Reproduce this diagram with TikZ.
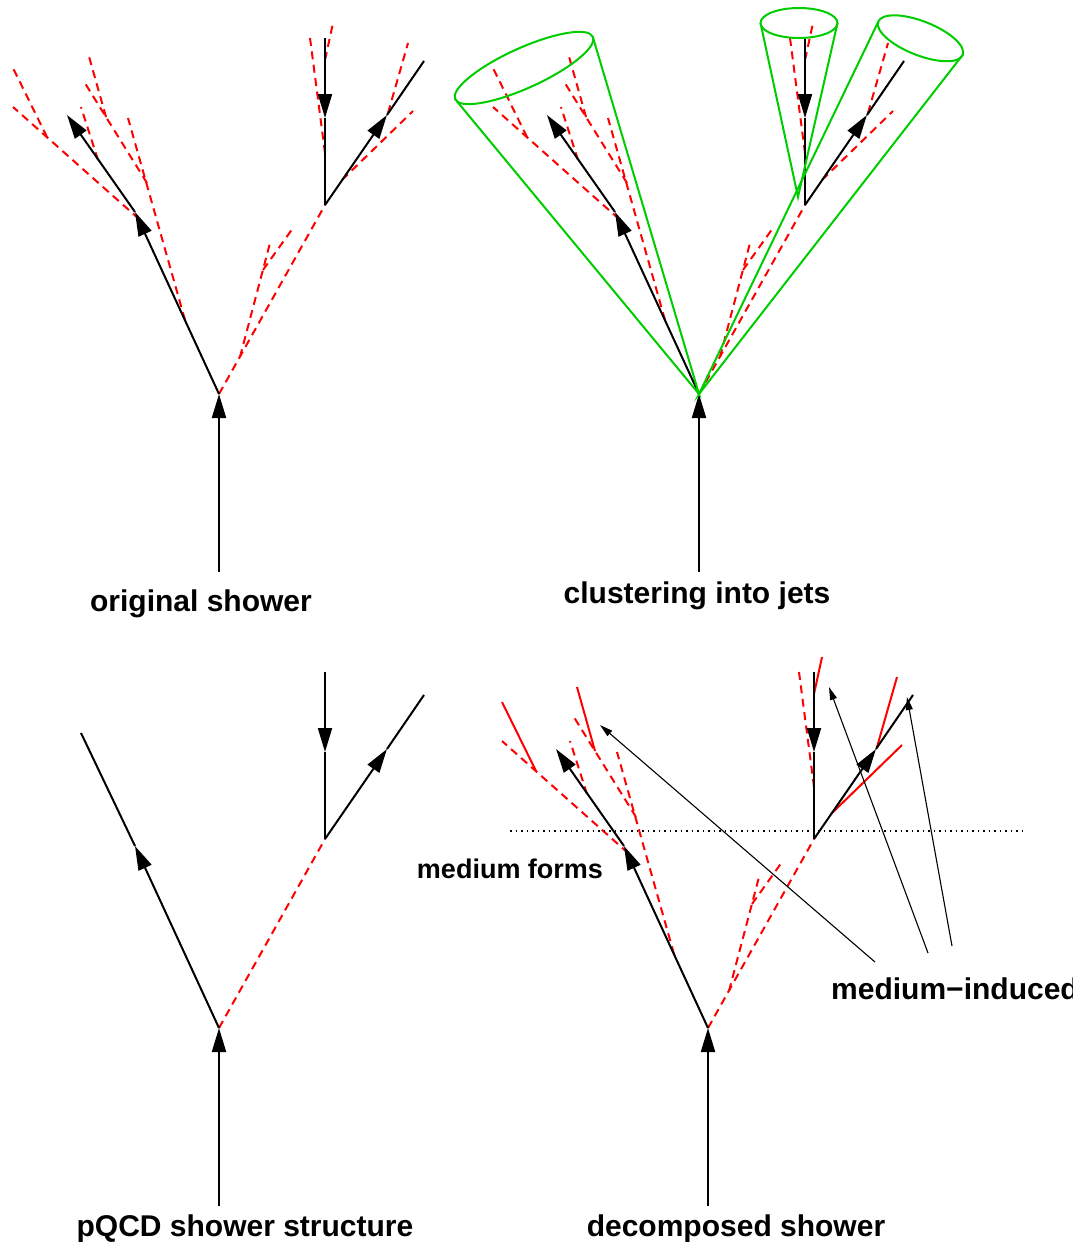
\documentclass[tikz,border=0pt]{standalone}
\usepackage{fontspec}
\setmainfont{Liberation Sans}
\usetikzlibrary{arrows.meta}
\definecolor{jetgreen}{RGB}{0,205,0}
\tikzset{
  quark/.style={black, line width=2pt},
  fwd/.style={quark, -{Triangle[length=24pt,width=14pt]}},
  glu/.style={red, line width=2pt, dash pattern=on 8pt off 5.5pt},
  medglu/.style={red, line width=2pt},
  jet/.style={jetgreen, line width=2pt},
  pointer/.style={black, line width=1.1pt, -{Triangle[length=13pt,width=7pt]}},
  mediumline/.style={black, line width=1.5pt, dash pattern=on 1.5pt off 4pt},
  lab/.style={font=\fontsize{30}{36}\selectfont\bfseries, inner sep=0pt},
  smalllab/.style={font=\fontsize{27}{32}\selectfont\bfseries, inner sep=0pt},
}
% points of one shower tree (pixel-like units, y pointing down)
\newcommand{\treepoints}{%
  \coordinate (v)  at (219,394);
  \coordinate (in) at (219,572);
  \coordinate (q)  at (135,212);
  \coordinate (qt) at (67,115);
  \coordinate (qs) at (81,99);
  \coordinate (a)  at (325,205);
  \coordinate (at) at (325,38);
  \coordinate (am) at (325,118);
  \coordinate (bt) at (424,61);
  \coordinate (bm) at (387,115);
  \coordinate (g1s) at (139,219);  \coordinate (g1t) at (13,107);
  \coordinate (g1b) at (47,137);   \coordinate (g1bt) at (13,68);
  \coordinate (gs) at (185,320);   \coordinate (gt) at (128,118);
  \coordinate (es) at (147,183);   \coordinate (et) at (83,80);
  \coordinate (ds) at (106,117);   \coordinate (dt) at (88,53);
  \coordinate (fs) at (98,160);    \coordinate (ft) at (81,107);
  \coordinate (l2s) at (240,357);  \coordinate (l2t) at (270,243);
  \coordinate (l3s) at (263,270);  \coordinate (l3t) at (293,228);
  \coordinate (r1s) at (325,153);  \coordinate (r1t) at (310,38);
  \coordinate (r2s) at (325,60);   \coordinate (r2t) at (333,23);
  \coordinate (r3s) at (388,113);  \coordinate (r3t) at (408,43);
  \coordinate (r4s) at (342,180);  \coordinate (r4t) at (413,111);
}
% the hard skeleton: incoming line, quark, gluon splitting into a pair
\newcommand{\skeleton}{%
  \draw[glu] (v) -- (a);
  \draw[fwd] (in) -- (v);
  \draw[fwd] (v) -- (q);
  \draw[fwd] (at) -- (am);
  \draw[quark] (am) -- (a);
  \draw[fwd] (a) -- (bm);
  \draw[quark] (bm) -- (bt);
}
\begin{document}
\begin{tikzpicture}[x=1pt, y=-1pt]
\useasboundingbox (0,0) rectangle (1073,1242);
\clip (0,0) rectangle (1073,1242);

% ---------- original shower ----------
\begin{scope}[name prefix=tl-]
  \treepoints
  \foreach \s/\t in {g1s/g1t, g1b/g1bt, gs/gt, es/et, ds/dt, fs/ft, l2s/l2t, l3s/l3t, r1s/r1t, r2s/r2t, r3s/r3t, r4s/r4t}
    \draw[glu] (\s) -- (\t);
  \skeleton
  \draw[fwd] (q) -- (qt);
\end{scope}
\node[lab] (lab-orig) at (201,604) {original shower};

% ---------- clustering into jets ----------
\begin{scope}[shift={(480,0)}, name prefix=tr-]
  \treepoints
  \foreach \s/\t in {g1s/g1t, g1b/g1bt, gs/gt, es/et, ds/dt, fs/ft, l2s/l2t, l3s/l3t, r1s/r1t, r2s/r2t, r3s/r3t, r4s/r4t}
    \draw[glu] (\s) -- (\t);
  \skeleton
  \draw[fwd] (q) -- (qt);
\end{scope}
% jet cones
\coordinate (cone1c) at (524,68);
\coordinate (cone1l) at (455.2,99.2);
\coordinate (cone1r) at (592.8,36.8);
\coordinate (cone2c) at (799,23);
\coordinate (cone2l) at (760.5,23);
\coordinate (cone2r) at (837.5,23);
\coordinate (cone2apex) at (798,197);
\coordinate (cone3c) at (920.5,38.3);
\coordinate (cone3l) at (878.3,21.7);
\coordinate (cone3r) at (962.7,54.9);
\draw[jet, rotate around={24.4:(cone1c)}] (cone1c) ellipse [x radius=75.6, y radius=20];
\draw[jet] (cone1l) -- (tr-v) -- (cone1r);
\draw[jet] (cone2c) ellipse [x radius=38.5, y radius=15];
\draw[jet] (cone2l) -- (cone2apex) -- (cone2r);
\draw[jet, rotate around={-21.5:(cone3c)}] (cone3c) ellipse [x radius=45.4, y radius=17];
\draw[jet] (cone3l) -- (tr-v) -- (cone3r);
\node[lab] (lab-clus) at (697,596) {clustering into jets};

% ---------- pQCD shower structure ----------
\begin{scope}[shift={(0,634)}, name prefix=bl-]
  \treepoints
  \skeleton
  \draw[quark] (q) -- (qs);
\end{scope}
\node[lab] (lab-pqcd) at (245,1229) {pQCD shower structure};

% ---------- decomposed shower ----------
\begin{scope}[shift={(489,634)}, name prefix=br-]
  \treepoints
  \foreach \s/\t in {g1s/g1t, gs/gt, es/et, fs/ft, l2s/l2t, l3s/l3t, r1s/r1t}
    \draw[glu] (\s) -- (\t);
  \foreach \s/\t in {g1b/g1bt, ds/dt, r2s/r2t, r3s/r3t, r4s/r4t}
    \draw[medglu] (\s) -- (\t);
  \skeleton
  \draw[fwd] (q) -- (qt);
\end{scope}
% formation of the medium
\coordinate (medL) at (510,831);
\coordinate (medR) at (1025,831);
\draw[mediumline] (medL) -- (medR);
\node[smalllab] (lab-form) at (510,869) {medium forms};
% medium-induced emissions
\node[lab, anchor=base west] (lab-ind) at (831,999) {medium−induced};
\coordinate (p1) at (875,962);
\coordinate (p2) at (928,953);
\coordinate (p3) at (952,946);
\coordinate (t1) at (600,725);
\coordinate (t2) at (829,687);
\coordinate (t3) at (907,697);
\draw[pointer] (p1) -- (t1);
\draw[pointer] (p2) -- (t2);
\draw[pointer] (p3) -- (t3);
\node[lab] (lab-dec) at (736,1229) {decomposed shower};
\end{tikzpicture}
\end{document}
